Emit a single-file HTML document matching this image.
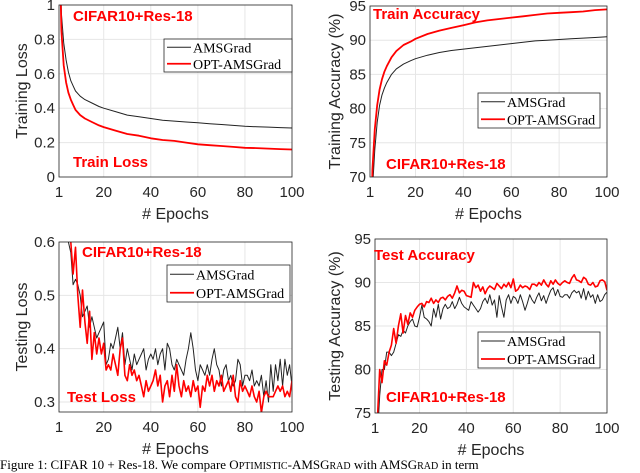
<!DOCTYPE html>
<html><head><meta charset="utf-8"><style>
html,body{margin:0;background:#fff;width:640px;height:473px;overflow:hidden}
svg{display:block;font-family:"Liberation Sans",sans-serif}
</style></head><body>
<svg id="s" width="640" height="473">
<text x="0" y="469" font-family="Liberation Serif" font-size="13" fill="#000">Figure 1: CIFAR 10 + Res-18. We compare O<tspan font-size="10">PTIMISTIC</tspan>-AMSG<tspan font-size="10">RAD</tspan> with AMSG<tspan font-size="10">RAD</tspan> in term</text>
</svg>
<script>
const trEpochs=[1,2,3,4,5,6,7,8,10,12,15,18,20,25,30,35,40,45,50,55,60,65,70,75,80,85,90,95,100];
const trLossAms=[1.5,0.95,0.78,0.68,0.61,0.56,0.53,0.5,0.47,0.45,0.43,0.41,0.40,0.38,0.36,0.35,0.34,0.33,0.325,0.32,0.315,0.31,0.305,0.30,0.295,0.292,0.29,0.287,0.285];
const trLossOpt=[1.5,0.85,0.65,0.55,0.49,0.45,0.42,0.39,0.36,0.34,0.32,0.30,0.29,0.27,0.25,0.24,0.225,0.215,0.21,0.20,0.19,0.185,0.18,0.175,0.17,0.168,0.165,0.162,0.16];
const trAccAms=[50,68,74,78,80.5,82,83,83.8,85,85.8,86.5,87,87.3,87.8,88.2,88.5,88.7,88.9,89.1,89.3,89.5,89.7,89.9,90.0,90.1,90.2,90.3,90.4,90.5];
const trAccOpt=[50,71,77,80.5,82.8,84.3,85.4,86.2,87.5,88.4,89.3,89.8,90.2,90.9,91.4,91.8,92.2,92.6,92.9,93.1,93.3,93.5,93.7,93.9,94.0,94.1,94.2,94.4,94.5];
const teLossAms=[0.75,0.70,0.66,0.62,0.60,0.58,0.52,0.53,0.52,0.50,0.46,0.47,0.48,0.44,0.46,0.44,0.42,0.43,0.44,0.45,0.37,0.38,0.41,0.40,0.42,0.44,0.40,0.43,0.37,0.40,0.38,0.36,0.39,0.37,0.38,0.39,0.40,0.36,0.38,0.39,0.38,0.40,0.37,0.39,0.40,0.36,0.41,0.40,0.37,0.36,0.38,0.37,0.36,0.35,0.38,0.40,0.43,0.40,0.36,0.34,0.37,0.36,0.35,0.37,0.35,0.38,0.40,0.37,0.36,0.33,0.36,0.37,0.34,0.35,0.33,0.34,0.38,0.37,0.33,0.35,0.35,0.34,0.36,0.33,0.34,0.33,0.35,0.31,0.34,0.30,0.37,0.32,0.37,0.34,0.38,0.33,0.38,0.35,0.37,0.33];
const teLossOpt=[0.78,0.72,0.68,0.64,0.62,0.60,0.54,0.59,0.50,0.44,0.51,0.45,0.41,0.47,0.38,0.43,0.39,0.42,0.39,0.41,0.36,0.37,0.36,0.39,0.37,0.35,0.40,0.42,0.35,0.34,0.37,0.35,0.36,0.34,0.35,0.33,0.31,0.34,0.32,0.33,0.34,0.36,0.33,0.35,0.30,0.33,0.34,0.31,0.35,0.32,0.37,0.33,0.31,0.34,0.32,0.33,0.31,0.34,0.32,0.33,0.29,0.33,0.32,0.35,0.33,0.35,0.32,0.34,0.33,0.35,0.32,0.33,0.34,0.32,0.35,0.31,0.30,0.34,0.32,0.33,0.32,0.31,0.33,0.31,0.30,0.32,0.28,0.31,0.32,0.31,0.31,0.31,0.32,0.33,0.32,0.33,0.31,0.32,0.31,0.34];
const teAccAms=[60,72,77,80,80,82,82,81.6,82,83,84,83.8,84.5,84.2,85,85.5,85.8,85,84.9,86,87.4,86,85.8,85.5,85,87,86,87.5,85.8,87,87.5,87,87.2,87.8,87,87.5,88.3,87.6,87.2,87,86.8,87.8,87.4,87,86.6,87,87.8,88.2,87.6,88.6,87.4,88,86,88.5,87.2,86,88,88.6,87.6,88.4,88.2,87.6,88.6,87.8,86.8,87.6,88.6,88,87.6,88.3,88.8,87.9,88.5,87.6,88.4,89.1,89.4,88.5,89.2,88.4,88.3,88.6,88.6,88.2,88.8,89.1,88.8,89.0,88.2,89.3,88.0,89.0,88.3,88.6,87.6,88.6,87.8,88.0,88.6,88.9];
const teAccOpt=[62,74,80,78.5,81,80.5,82,82.8,84.7,83,85,86.4,84.2,86.2,85.2,86.5,86,86.8,87.2,87.5,87.6,87.2,87.8,87.7,88.2,87.6,88.0,87.7,88.2,88.3,88.0,88.4,88.6,88.2,88.8,89.6,88.8,89.1,89.0,88.5,88.4,88.3,90.0,89.4,89.7,89.0,89.5,88.7,89.3,89.6,89.4,89.2,89.9,89.6,89.3,89.8,89.5,90.0,89.4,90.4,89.0,89.2,89.7,89.4,89.6,89.5,89.2,89.8,89.8,89.6,90.0,89.7,90.3,89.8,89.5,90.2,89.8,90.3,89.9,89.7,90.0,90.2,90.0,89.9,90.5,90.9,90.3,90.2,90.0,90.6,90.4,89.8,89.7,90.0,89.5,89.6,90.2,90.3,90.1,89.1];
const allEpochs=[];for(let i=1;i<=100;i++)allEpochs.push(i);
const xTicks=[1,20,40,60,80,100];

const NS="http://www.w3.org/2000/svg";
const svg=document.getElementById('s');
function mk(tag,attrs,parent){const e=document.createElementNS(NS,tag);for(const k in attrs)e.setAttribute(k,attrs[k]);(parent||svg).appendChild(e);return e;}

function panel(o){
  const g=mk('g',{});
  
  
  const X=v=>o.x0+(v-1)/99*(o.x1-o.x0);
  const Y=v=>o.yb+(v-o.ymin)/(o.ymax-o.ymin)*(o.yt-o.yb);
  const top=Y(o.ymax), bot=o.ybot;
  mk('rect',{x:o.x0,y:top,width:o.x1-o.x0,height:bot-top,fill:'#fff'},g);
  xTicks.forEach(t=>{
    const gl=mk('line',{x1:X(t),x2:X(t),y1:top,y2:bot,stroke:'#e6e6e6','stroke-width':1},g);
    
    const tl=mk('text',{x:X(t),y:bot+20,'text-anchor':'middle','font-size':15,fill:'#262626'},g);
    tl.textContent=t;
    
  });
  o.yTicks.forEach((t,i)=>{
    const gl=mk('line',{x1:o.x0,x2:o.x1,y1:Y(t),y2:Y(t),stroke:'#e6e6e6','stroke-width':1},g);
    
    const tl=mk('text',{x:o.x0-4,y:Y(t)+5,'text-anchor':'end','font-size':15,fill:'#262626'},g);
    tl.textContent=o.yLabels[i];
    
  });
  const cid='c'+o.name;
  const cp=mk('clipPath',{id:cid},g);
  mk('rect',{x:o.x0,y:top,width:o.x1-o.x0,height:bot-top},cp);
  o.series.forEach(s=>{
    let d='';
    s.y.forEach((v,i)=>{d+=(i?'L':'M')+X(s.x[i]).toFixed(1)+','+Y(v).toFixed(1);});
    const p=mk('path',{d:d,fill:'none',stroke:s.c,'stroke-width':s.w,'clip-path':'url(#'+cid+')','stroke-linejoin':'round'},g);
    
  });
  const fr=mk('rect',{x:o.x0,y:top,width:o.x1-o.x0,height:bot-top,fill:'none',stroke:'#262626','stroke-width':0.8},g);
  
  const xt=mk('text',{x:(o.x0+o.x1)/2,y:bot+42,'text-anchor':'middle','font-size':16,fill:'#262626'},g);
  xt.textContent='# Epochs';
  
  const cy=(top+bot)/2;
  const yt=mk('text',{x:o.ytx,y:cy,'text-anchor':'middle','font-size':16,fill:'#262626',transform:'rotate(-90 '+o.ytx+' '+cy+')'},g);
  yt.textContent=o.ytitle;
  
  o.notes.forEach(n=>{
    const t=mk('text',{x:n[0],y:n[1],'font-size':15,'font-weight':'bold',fill:'#ff0000'},g);
    t.textContent=n[2];
    
  });
  const L=o.leg;
  const lg=mk('g',{},g);
  
  mk('rect',{x:L[0],y:L[1],width:L[2]-L[0],height:L[3]-L[1],fill:'#fff',stroke:'#262626','stroke-width':0.8},lg);
  const rh=(L[3]-L[1])/2;
  [['AMSGrad','#222',1],['OPT-AMSGrad','#ff0000',1.8]].forEach((e,i)=>{
    const yy=L[1]+rh*(i+0.5);
    const en=mk('g',{},lg);
    
    mk('line',{x1:L[0]+3,x2:L[0]+27,y1:yy,y2:yy,stroke:e[1],'stroke-width':e[2]},en);
    const t=mk('text',{x:L[0]+29,y:yy+5,'font-size':14,'font-family':'Liberation Serif',fill:'#000'},en);
    t.textContent=e[0];
  });
}

panel({name:'train-loss-chart',x0:59,x1:292,yb:177,yt:5,ybot:177,ymin:0,ymax:1,yTicks:[0,0.2,0.4,0.6,0.8,1],yLabels:['0','0.2','0.4','0.6','0.8','1'],ytx:27,ytitle:'Training Loss',
  series:[{x:trEpochs,y:trLossAms,c:'#222',w:1,n:'amsgrad-train-loss-line'},{x:trEpochs,y:trLossOpt,c:'#ff0000',w:1.8,n:'opt-amsgrad-train-loss-line'}],
  notes:[[73,21,'CIFAR10+Res-18','dataset-label'],[73,167,'Train Loss','panel-label']],leg:[164,39,292,72]});
panel({name:'train-accuracy-chart',x0:370,x1:607,yb:177,yt:6,ybot:177,ymin:70,ymax:95,yTicks:[70,75,80,85,90,95],yLabels:['70','75','80','85','90','95'],ytx:340,ytitle:'Training Accuracy (%)',
  series:[{x:trEpochs,y:trAccAms,c:'#222',w:1,n:'amsgrad-train-accuracy-line'},{x:trEpochs,y:trAccOpt,c:'#ff0000',w:1.8,n:'opt-amsgrad-train-accuracy-line'}],
  notes:[[373,19,'Train Accuracy','panel-label'],[386,169,'CIFAR10+Res-18','dataset-label']],leg:[478,93,600,128]});
panel({name:'test-loss-chart',x0:59,x1:292,yb:402,yt:242,ybot:412,ymin:0.3,ymax:0.6,yTicks:[0.3,0.4,0.5,0.6],yLabels:['0.3','0.4','0.5','0.6'],ytx:27,ytitle:'Testing Loss',
  series:[{x:allEpochs,y:teLossAms,c:'#222',w:1,n:'amsgrad-test-loss-line'},{x:allEpochs,y:teLossOpt,c:'#ff0000',w:1.6,n:'opt-amsgrad-test-loss-line'}],
  notes:[[82,257,'CIFAR10+Res-18','dataset-label'],[67,402,'Test Loss','panel-label']],leg:[167,265,290,302]});
panel({name:'test-accuracy-chart',x0:375,x1:607,yb:413,yt:239,ybot:413,ymin:75,ymax:95,yTicks:[75,80,85,90,95],yLabels:['75','80','85','90','95'],ytx:340,ytitle:'Testing Accuracy (%)',
  series:[{x:allEpochs,y:teAccAms,c:'#222',w:1,n:'amsgrad-test-accuracy-line'},{x:allEpochs,y:teAccOpt,c:'#ff0000',w:1.6,n:'opt-amsgrad-test-accuracy-line'}],
  notes:[[374,260,'Test Accuracy','panel-label'],[386,402,'CIFAR10+Res-18','dataset-label']],leg:[478,332,600,368]});
</script>
</body></html>
